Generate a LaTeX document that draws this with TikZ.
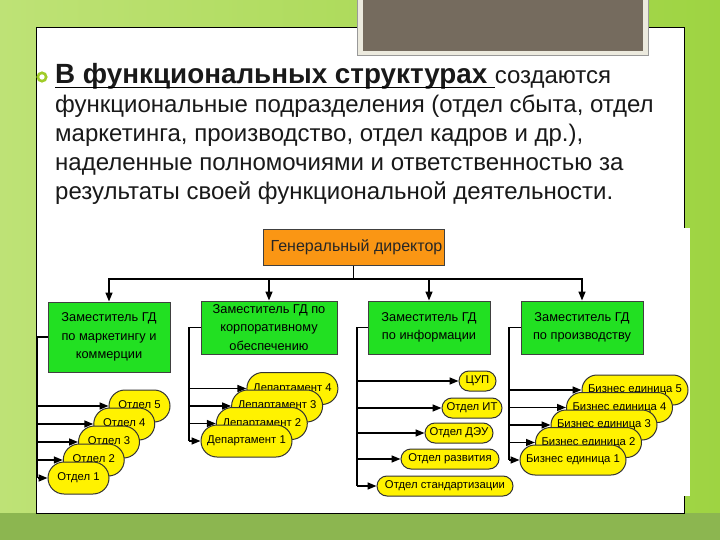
\documentclass[tikz,border=0pt]{standalone}
\usepackage{fontspec}
\setmainfont{Liberation Sans}
\usetikzlibrary{arrows.meta,shapes.misc}
\definecolor{bgL}{RGB}{190,226,118}
\definecolor{bgR}{RGB}{158,212,66}
\definecolor{bgB}{RGB}{140,182,80}
\definecolor{frameC}{RGB}{236,234,222}
\definecolor{brownC}{RGB}{117,107,94}
\definecolor{bulletC}{RGB}{160,204,40}
\definecolor{orangeC}{RGB}{250,150,20}
\definecolor{greenC}{RGB}{34,224,34}
\definecolor{yellowC}{RGB}{255,242,0}
\begin{document}
\begin{tikzpicture}[x=1pt,y=-1pt,
  txt/.style={inner sep=0pt, anchor=base west, font=\fontsize{24}{28}\selectfont, text=black!90},
  gbox/.style={draw=black!75, line width=1pt, fill=greenC, align=center, font=\fontsize{12.8}{18.5}\selectfont, inner sep=0pt},
  ybox/.style={rounded rectangle, draw=black!80, line width=1pt, fill=yellowC, font=\fontsize{11.3}{13}\selectfont, inner sep=0pt, minimum height=32pt},
  sbox/.style={ybox, minimum height=20pt},
  ln/.style={line width=1.5pt},
  arr/.style={line width=1.5pt, -{Triangle[length=9pt,width=7pt]}}
]
\useasboundingbox (0,0) rectangle (720,540);
\fill[left color=bgL, right color=bgR] (0,0) rectangle (720,540);
\fill[bgB] (0,513) rectangle (720,540);
% panel
\draw[fill=white, line width=0.8pt] (36,27) rectangle (684,513);
% brown frame
\draw[fill=frameC, draw=black!40, line width=0.5pt] (357,-2) rectangle (648,55);
\fill[brownC] (363,-2) rectangle (643,51);
% bullet
\draw[bulletC, line width=2.6pt] (42,77) circle (4.2);
% text
\node[txt, font=\fontsize{27.8}{30}\selectfont\bfseries] (l1) at (55,84) {В функциональных структурах};
\coordinate (u) at ([xshift=7pt]l1.base east);
\draw[line width=1.5pt] ([yshift=-3.5pt]l1.base west) -- ([yshift=-3.5pt]u);
\node[txt] (l1b) at (u) {создаются};
\node[txt] (l2) at (55,113) {функциональные подразделения (отдел сбыта, отдел};
\node[txt] (l3) at (55,142) {маркетинга, производство, отдел кадров и др.),};
\node[txt] (l4) at (55,171) {наделенные полномочиями и ответственностью за};
\node[txt] (l5) at (55,200) {результаты своей функциональной деятельности.};
% diagram area
\fill[white] (36.5,228) rectangle (690,496);
% director
\node[draw=black!75, line width=1pt, fill=orangeC, minimum width=181pt, minimum height=35pt, inner sep=0pt, font=\fontsize{16}{18}\selectfont, text=black!85] (gd) at (353.5,247.5) {\hspace{6pt}Генеральный директор};
% deputies
\node[gbox, minimum width=122pt, minimum height=70pt] (z1) at (109,337) {Заместитель ГД\\по маркетингу и\\коммерции};
\node[gbox, minimum width=136pt, minimum height=53pt] (z2) at (269,327.5) {Заместитель ГД по\\корпоративному\\обеспечению};
\node[gbox, minimum width=122pt, minimum height=53pt] (z3) at (429,327.5) {Заместитель ГД\\по информации};
\node[gbox, minimum width=122pt, minimum height=53pt] (z4) at (582,327.5) {Заместитель ГД\\по производству};
% bus
\coordinate (b) at (353.5,279);
\draw[ln] (gd.south) -- (b);
\foreach \z in {z1,z2,z3,z4} \draw[arr] (b) -| (\z.north);
% group 1
\foreach \k/\x/\y in {5/139.5/406, 4/124.25/424, 3/109/442, 2/93.75/460, 1/78.5/478}
  \node[ybox, minimum width=61pt] (o\k) at (\x,\y) {Отдел \k};
% group 2
\foreach \k/\x/\y in {4/292.4/388.5, 3/277.1/406, 2/261.8/423.5, 1/246.5/441}
  \node[ybox, minimum width=91pt] (d\k) at (\x,\y) {Департамент \k};
% group 3
\node[sbox, minimum width=37pt] (c1) at (477.5,381) {ЦУП};
\node[sbox, minimum width=60pt] (c2) at (472,408) {Отдел ИТ};
\node[sbox, minimum width=68pt] (c3) at (459,433) {Отдел ДЭУ};
\node[sbox, minimum width=98pt] (c4) at (450,459) {Отдел развития};
\node[sbox, minimum width=136pt] (c5) at (445,486) {Отдел стандартизации};
% group 4
\foreach \k/\x/\y in {5/635/390, 4/619.5/407.5, 3/604/425, 2/588.5/442.5, 1/573/460}
  \node[ybox, minimum width=106pt, minimum height=30pt] (e\k) at (\x,\y) {Бизнес единица \k};
% trunks
\coordinate (t1) at (37.5,337);
\draw[ln] (z1.west) -- (t1) -- (t1 |- o1.west);
\foreach \k in {1,...,5} \draw[arr] (t1 |- o\k.west) -- (o\k.west);
\coordinate (t2) at (189,327.5);
\draw[ln] (z2.west) -- (t2) -- (t2 |- d1.west);
\foreach \k in {1,...,4} \draw[arr] (t2 |- d\k.west) -- (d\k.west);
\coordinate (t3) at (357,327.5);
\draw[ln] (z3.west) -- (t3) -- (t3 |- c5.west);
\foreach \k in {1,...,5} \draw[arr] (t3 |- c\k.west) -- (c\k.west);
\coordinate (t4) at (509,327.5);
\draw[ln] (z4.west) -- (t4) -- (t4 |- e1.west);
\foreach \k in {1,...,5} \draw[arr] (t4 |- e\k.west) -- (e\k.west);
\end{tikzpicture}
\end{document}
